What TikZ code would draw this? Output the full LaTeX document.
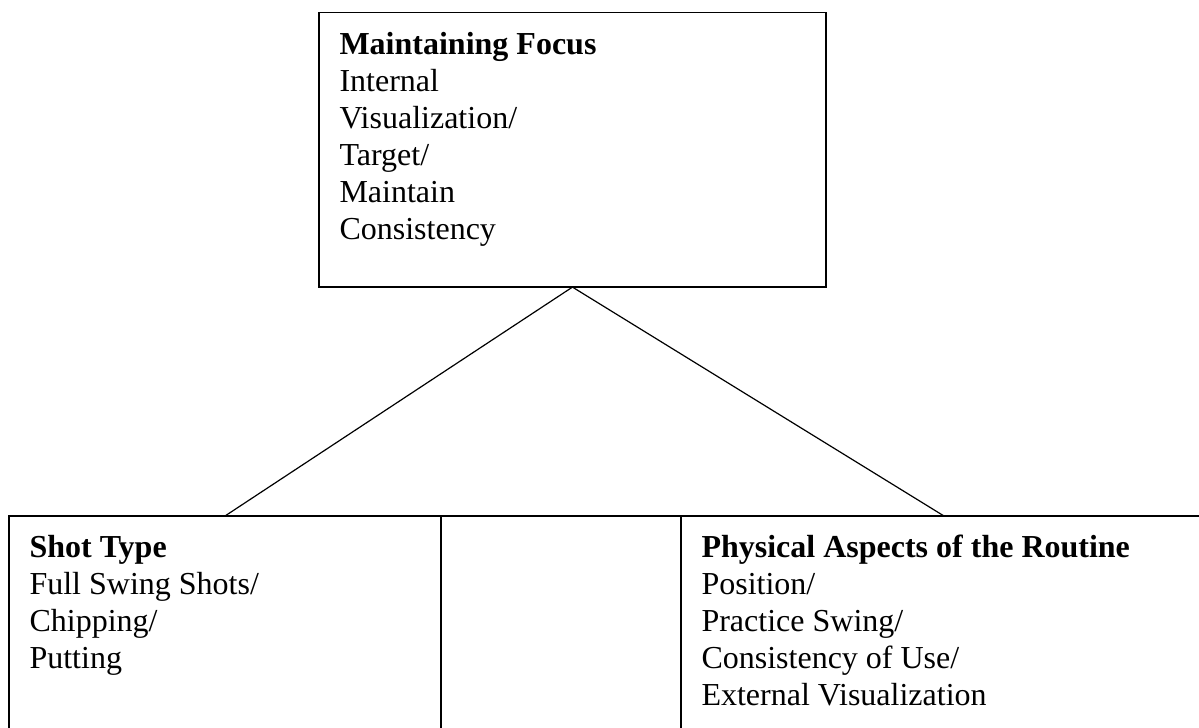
\documentclass[tikz,border=0pt]{standalone}
\usepackage{fontspec}
\setmainfont{Liberation Serif}
\usepackage{tikz}
\usetikzlibrary{positioning}
\tikzset{
  cellbox/.style={draw=black,line width=0.6pt,inner sep=0pt,outer sep=0pt},
  celltext/.style={inner sep=0pt,align=left,
                   font=\fontsize{12pt}{13.875pt}\selectfont},
  link/.style={draw=black,line width=0.45pt}
}
\begin{document}
\begin{tikzpicture}[x=0.375pt,y=-0.375pt]
    \clip (0,0) rectangle (1199,728);
    \node[cellbox,anchor=north west,minimum width=190.1pt,minimum height=102.9pt] (focus) at (319,12.7) {};
    \node[cellbox,anchor=north west,minimum width=162pt,minimum height=97.5pt] (shottype) at (9,516) {};
    \node[cellbox,right=0pt of shottype,minimum width=90pt,minimum height=97.5pt] (gap) {};
    \node[cellbox,right=0pt of gap,minimum width=197.25pt,minimum height=97.5pt] (physical) {};

    \node[celltext,below right=7pt and 7.5pt of focus.north west] (focustext) {
      \textbf{Maintaining Focus}\\
      Internal\\
      Visualization/\\
      Target/\\
      Maintain\\
      Consistency
    };
    \node[celltext,below right=7pt and 7.5pt of shottype.north west] (shottext) {
      \textbf{Shot Type}\\
      Full Swing Shots/\\
      Chipping/\\
      Putting
    };
    \node[celltext,below right=7pt and 7.5pt of physical.north west] (physicaltext) {
      \textbf{Physical Aspects of the Routine}\\
      Position/\\
      Practice Swing/\\
      Consistency of Use/\\
      External Visualization
    };

    \draw[link] (focus.south) -- (shottype.north);
    \draw[link] (focus.south) -- (physical.north);
\end{tikzpicture}
\end{document}
